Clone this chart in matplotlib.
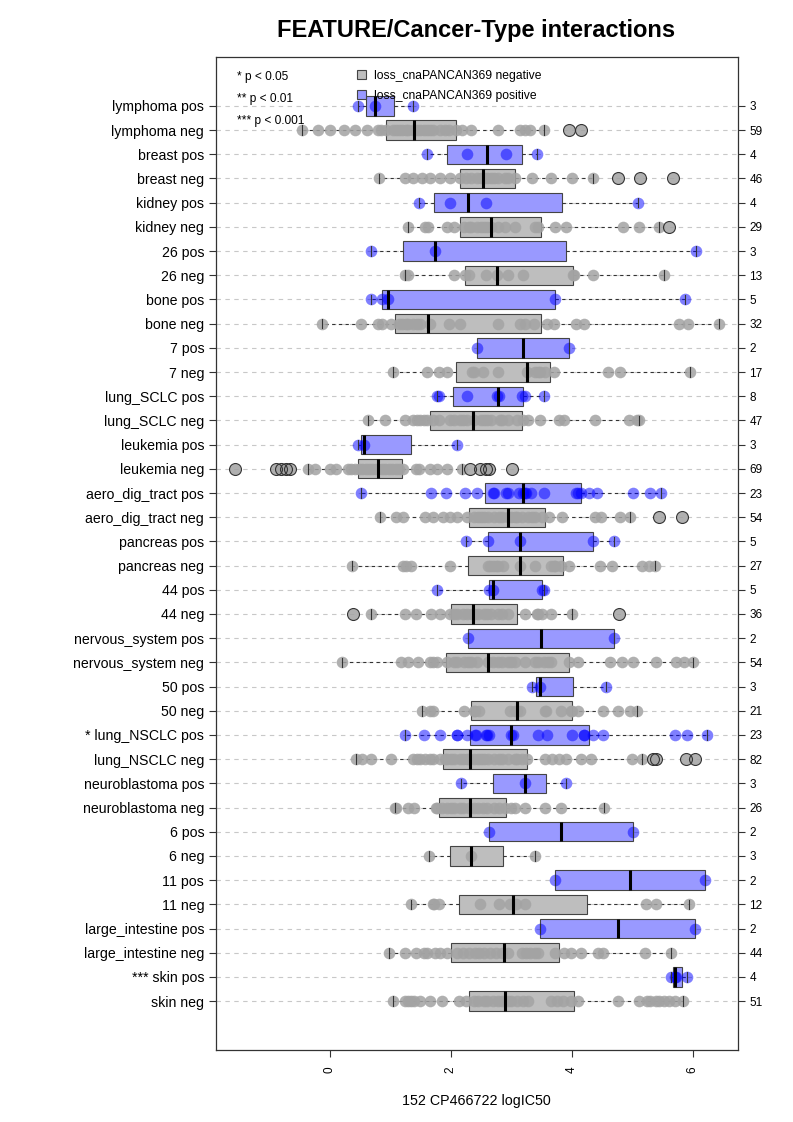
import numpy as np
import matplotlib.pyplot as plt
from matplotlib.patches import Patch

plt.rcParams['font.family'] = ['Liberation Sans', 'DejaVu Sans']

# rows from top to bottom
labels = ['lymphoma pos', 'lymphoma neg', 'breast pos', 'breast neg', 'kidney pos', 'kidney neg',
          '26 pos', '26 neg', 'bone pos', 'bone neg', '7 pos', '7 neg',
          'lung_SCLC pos', 'lung_SCLC neg', 'leukemia pos', 'leukemia neg',
          'aero_dig_tract pos', 'aero_dig_tract neg', 'pancreas pos', 'pancreas neg',
          '44 pos', '44 neg', 'nervous_system pos', 'nervous_system neg', '50 pos', '50 neg',
          '* lung_NSCLC pos', 'lung_NSCLC neg', 'neuroblastoma pos', 'neuroblastoma neg',
          '6 pos', '6 neg', '11 pos', '11 neg', 'large_intestine pos', 'large_intestine neg',
          '*** skin pos', 'skin neg']
counts = [3, 59, 4, 46, 4, 29, 3, 13, 5, 32, 2, 17, 8, 47, 3, 69, 23, 54, 5, 27,
          5, 36, 2, 54, 3, 21, 23, 82, 3, 26, 2, 3, 2, 12, 2, 44, 4, 51]

whislo = [0.47, -0.46, 1.60, 0.82, 1.48, 1.29, 0.68, 1.24, 0.68, -0.12, 2.43, 1.04,
          1.78, 0.63, 0.47, -0.36, 0.52, 0.83, 2.26, 0.37, 1.77, 0.69, 2.28, 0.20,
          3.34, 1.53, 1.25, 0.43, 2.17, 1.08, 2.64, 1.64, 3.72, 1.34, 3.48, 0.98, 5.64, 1.05]
q1 = [0.60, 0.93, 1.93, 2.15, 1.73, 2.16, 1.21, 2.24, 0.86, 1.08, 2.43, 2.08,
      2.03, 1.65, 0.52, 0.47, 2.57, 2.31, 2.61, 2.29, 2.63, 2.01, 2.28, 1.92,
      3.41, 2.34, 2.32, 1.88, 2.70, 1.81, 2.64, 1.99, 3.72, 2.14, 3.48, 2.01, 5.67, 2.31]
med = [0.74, 1.40, 2.60, 2.54, 2.28, 2.67, 1.74, 2.77, 0.96, 1.63, 3.20, 3.26,
       2.78, 2.37, 0.56, 0.80, 3.19, 2.94, 3.14, 3.15, 2.70, 2.37, 3.49, 2.62,
       3.48, 3.10, 2.99, 2.32, 3.23, 2.32, 3.83, 2.33, 4.96, 3.03, 4.76, 2.88, 5.71, 2.90]
q3 = [1.06, 2.08, 3.17, 3.07, 3.84, 3.49, 3.90, 4.02, 3.72, 3.49, 3.96, 3.64,
      3.20, 3.17, 1.34, 1.19, 4.16, 3.55, 4.35, 3.86, 3.51, 3.10, 4.70, 3.95,
      4.02, 4.01, 4.28, 3.26, 3.57, 2.91, 5.02, 2.87, 6.21, 4.25, 6.03, 3.79, 5.82, 4.04]
whishi = [1.38, 3.54, 3.42, 4.35, 5.10, 5.44, 6.06, 5.53, 5.88, 6.44, 3.96, 5.96,
          3.54, 5.12, 2.11, 2.19, 5.47, 4.97, 4.70, 5.38, 3.54, 4.00, 4.70, 6.01,
          4.56, 5.08, 6.23, 5.16, 3.90, 4.53, 5.02, 3.40, 6.21, 5.94, 6.03, 5.64, 5.91, 5.84]

points = [
    [0.47, 0.74, 1.38],
    [-0.46, -0.19, 0.00, 0.23, 0.42, 0.62, 0.79, 0.85, 0.93, 1.04, 1.10, 1.15, 1.20, 1.26, 1.30,
     1.38, 1.45, 1.49, 1.55, 1.60, 1.65, 1.71, 1.83, 1.90, 1.97, 2.08, 2.19, 2.33, 2.78, 3.14,
     3.23, 3.31, 3.54],
    [1.60, 2.27, 2.92, 3.42],
    [0.82, 1.24, 1.38, 1.52, 1.66, 1.83, 1.99, 2.16, 2.25, 2.33, 2.44, 2.50, 2.55, 2.60, 2.67,
     2.72, 2.78, 2.89, 2.95, 3.06, 3.34, 3.65, 4.01, 4.35],
    [1.48, 1.98, 2.58, 5.10],
    [1.29, 1.57, 1.63, 1.94, 2.05, 2.22, 2.30, 2.33, 2.44, 2.50, 2.55, 2.60, 2.67, 2.78, 2.89,
     3.06, 3.40, 3.45, 3.73, 3.90, 4.85, 5.11, 5.44],
    [0.68, 1.74, 6.06],
    [1.24, 1.30, 2.05, 2.24, 2.30, 2.58, 2.77, 2.94, 3.19, 4.02, 4.04, 4.35, 5.53],
    [0.68, 0.87, 0.96, 3.72, 5.88],
    [-0.12, 0.52, 0.79, 0.87, 1.01, 1.15, 1.20, 1.26, 1.30, 1.38, 1.45, 1.49, 1.66, 1.97, 2.15,
     2.78, 3.14, 3.23, 3.38, 3.59, 3.70, 4.07, 4.21, 5.78, 5.92, 6.44],
    [2.43, 3.96],
    [1.04, 1.60, 1.80, 1.94, 2.35, 2.39, 2.53, 2.78, 3.26, 3.40, 3.45, 3.48, 3.55, 3.70, 4.60,
     4.80, 5.96],
    [1.78, 1.80, 2.27, 2.76, 2.80, 3.17, 3.22, 3.54],
    [0.63, 0.92, 1.24, 1.38, 1.45, 1.49, 1.55, 1.60, 1.70, 1.80, 1.99, 2.05, 2.16, 2.20, 2.27,
     2.39, 2.50, 2.55, 2.60, 2.67, 2.81, 2.85, 2.95, 3.09, 3.20, 3.28, 3.48, 3.79, 3.87, 4.38,
     4.94, 5.08, 5.12],
    [0.47, 0.56, 2.11],
    [-0.36, -0.25, 0.00, 0.11, 0.31, 0.35, 0.42, 0.48, 0.54, 0.60, 0.65, 0.70, 0.76, 0.80, 0.87,
     0.92, 0.98, 1.03, 1.10, 1.15, 1.21, 1.43, 1.48, 1.66, 1.77, 1.94, 2.19],
    [0.52, 1.67, 1.92, 2.23, 2.44, 2.70, 2.72, 2.92, 2.95, 3.13, 3.19, 3.22, 3.25, 3.33, 3.54,
     4.07, 4.10, 4.15, 4.28, 4.42, 5.02, 5.30, 5.47],
    [0.83, 1.10, 1.21, 1.57, 1.71, 1.88, 1.99, 2.11, 2.27, 2.39, 2.45, 2.50, 2.55, 2.61, 2.72,
     2.80, 2.84, 2.95, 3.00, 3.06, 3.10, 3.17, 3.28, 3.35, 3.40, 3.51, 3.62, 3.84, 4.38, 4.49,
     4.79, 4.97],
    [2.26, 2.61, 3.14, 4.35, 4.70],
    [0.37, 1.21, 1.26, 1.35, 1.98, 2.61, 2.65, 2.70, 2.75, 2.78, 2.86, 3.14, 3.40, 3.65, 3.70,
     3.73, 3.82, 3.96, 4.46, 4.66, 5.16, 5.27, 5.38],
    [1.77, 2.63, 2.70, 3.51, 3.54],
    [0.69, 1.24, 1.43, 1.67, 1.83, 1.99, 2.05, 2.11, 2.20, 2.27, 2.35, 2.39, 2.45, 2.55, 2.60,
     2.67, 2.78, 2.85, 2.95, 3.23, 3.42, 3.45, 3.51, 3.65, 4.00],
    [2.28, 4.70],
    [0.20, 1.18, 1.29, 1.46, 1.66, 1.70, 1.77, 1.94, 2.05, 2.10, 2.22, 2.28, 2.33, 2.44, 2.62,
     2.70, 2.78, 2.85, 2.95, 3.00, 3.06, 3.23, 3.40, 3.45, 3.54, 3.60, 3.65, 3.96, 4.10, 4.63,
     4.83, 5.02, 5.40, 5.72, 5.86, 6.01],
    [3.34, 3.48, 4.56],
    [1.53, 1.65, 1.70, 2.22, 2.39, 2.40, 2.47, 2.98, 3.06, 3.10, 3.15, 3.56, 3.58, 3.82, 3.99,
     4.00, 4.10, 4.52, 4.77, 4.97, 5.08],
    [1.25, 1.56, 1.83, 2.10, 2.11, 2.27, 2.40, 2.42, 2.58, 2.60, 2.64, 2.99, 3.03, 3.45, 3.59,
     4.00, 4.20, 4.21, 4.35, 4.52, 5.70, 5.91, 6.23],
    [0.43, 0.54, 0.69, 1.02, 1.38, 1.45, 1.49, 1.57, 1.65, 1.71, 1.83, 1.90, 1.94, 2.00, 2.05,
     2.16, 2.20, 2.27, 2.30, 2.39, 2.45, 2.50, 2.55, 2.61, 2.72, 2.80, 2.84, 2.95, 3.06, 3.10,
     3.17, 3.26, 3.56, 3.68, 3.79, 3.90, 4.15, 4.32, 4.99, 5.16],
    [2.17, 3.23, 3.90],
    [1.08, 1.10, 1.29, 1.40, 1.75, 1.77, 1.85, 1.94, 2.00, 2.05, 2.16, 2.20, 2.30, 2.39, 2.45,
     2.53, 2.60, 2.71, 2.80, 2.90, 3.00, 3.06, 3.23, 3.55, 3.82, 4.53],
    [2.64, 5.02],
    [1.64, 2.33, 3.40],
    [3.72, 6.21],
    [1.34, 1.70, 1.72, 1.80, 2.49, 2.79, 2.98, 3.08, 3.23, 5.23, 5.39, 5.94],
    [3.48, 6.03],
    [0.98, 1.24, 1.43, 1.55, 1.60, 1.74, 1.83, 1.94, 2.11, 2.20, 2.30, 2.40, 2.47, 2.55, 2.65,
     2.75, 2.85, 2.95, 3.17, 3.25, 3.31, 3.40, 3.45, 3.73, 3.87, 3.98, 4.15, 4.43, 4.52, 5.21,
     5.64],
    [5.64, 5.70, 5.72, 5.91],
    [1.05, 1.24, 1.30, 1.35, 1.40, 1.49, 1.66, 1.85, 2.13, 2.25, 2.39, 2.45, 2.55, 2.60, 2.70,
     2.78, 2.85, 2.95, 3.00, 3.10, 3.20, 3.28, 3.65, 3.75, 3.85, 3.99, 4.11, 4.77, 5.11, 5.25,
     5.30, 5.39, 5.45, 5.53, 5.60, 5.70, 5.84],
]

outliers = [[] for _ in labels]
outliers[1] = [3.96, 4.15]
outliers[3] = [4.76, 5.13, 5.67]
outliers[5] = [5.60]
outliers[15] = [-1.57, -0.89, -0.81, -0.73, -0.65, 2.32, 2.49, 2.58, 2.63, 3.01]
outliers[17] = [5.45, 5.82]
outliers[21] = [0.38, 4.78]
outliers[27] = [5.35, 5.40, 5.89, 6.03]

n = len(labels)
pos = np.arange(n, 0, -1)
is_pos = [lab.endswith('pos') for lab in labels]

fig = plt.figure(figsize=(7.93, 11.22), dpi=100)
ax = fig.add_axes([216/793, 72/1122, 521.5/793, 993/1122])

stats = []
for i in range(n):
    stats.append(dict(whislo=whislo[i], q1=q1[i], med=med[i], q3=q3[i],
                      whishi=whishi[i], fliers=outliers[i]))

bp = ax.bxp(stats, positions=pos, orientation='horizontal', widths=0.8,
            patch_artist=True, capwidths=0.4,
            boxprops=dict(edgecolor='#444444', linewidth=0.8),
            whiskerprops=dict(color='#333333', linewidth=0.8, linestyle=(0, (3, 3))),
            capprops=dict(color='#333333', linewidth=0.8, zorder=5),
            medianprops=dict(color='black', linewidth=2.2, zorder=5),
            flierprops=dict(marker='o', markerfacecolor='none', markeredgecolor='#333333',
                            markersize=8.6, markeredgewidth=0.8, zorder=5))
for box, p in zip(bp['boxes'], is_pos):
    box.set_facecolor('#9999FF' if p else '#BEBEBE')

for i in range(n):
    vals = points[i] + outliers[i]
    if is_pos[i]:
        ax.scatter(vals, [pos[i]] * len(vals), s=70, color='#0000FF', alpha=0.5,
                   linewidths=0, zorder=4)
    else:
        ax.scatter(vals, [pos[i]] * len(vals), s=70, color='#A3A3A3', alpha=0.85,
                   linewidths=0, zorder=4)

ax.set_xlim(-1.88, 6.74)
ax.set_ylim(-1.02, 40.02)
ax.set_yticks(pos)
ax.set_yticklabels(labels, fontsize=10.2)
ax.grid(axis='y', linestyle=(0, (4, 4)), color='#c8c8c8', linewidth=0.8)
ax.set_axisbelow(True)
ax.set_xticks([0, 2, 4, 6])
ax.set_xticklabels(['0', '2', '4', '6'], rotation=90, fontsize=8.5)
ax.tick_params(length=5, width=0.8, color='#333333')
ax.tick_params(axis='x', pad=7)
for s in ax.spines.values():
    s.set_linewidth(0.9)
    s.set_color('#333333')

ax2 = ax.twinx()
ax2.set_ylim(ax.get_ylim())
ax2.set_yticks(pos)
ax2.set_yticklabels([str(c) for c in counts], fontsize=8.5)
ax2.tick_params(length=5, width=0.8, color='#333333')
for s in ax2.spines.values():
    s.set_visible(False)

# significance key
ax.text(-1.53, 39.2, '* p < 0.05', fontsize=8.6, va='center')
ax.text(-1.53, 38.29, '** p < 0.01', fontsize=8.6, va='center')
ax.text(-1.53, 37.38, '*** p < 0.001', fontsize=8.6, va='center')

handles = [Patch(facecolor='#BEBEBE', edgecolor='#444444', linewidth=0.8),
           Patch(facecolor='#9999FF', edgecolor='#444444', linewidth=0.8)]
ax.legend(handles, ['loss_cnaPANCAN369 negative', 'loss_cnaPANCAN369 positive'],
          loc='upper left', bbox_to_anchor=(0.270, 0.987), frameon=False,
          fontsize=8.7, handlelength=0.75, handleheight=0.75, handletextpad=0.7,
          labelspacing=0.65, borderpad=0, borderaxespad=0)

fig.text(476.5/793, 1 - 30/1122, 'FEATURE/Cancer-Type interactions', fontsize=17,
         fontweight='bold', ha='center', va='center')
fig.text(476.5/793, 1 - 1101/1122, '152 CP466722 logIC50', fontsize=10.3,
         ha='center', va='center')

fig.savefig('out.png', dpi=100)
